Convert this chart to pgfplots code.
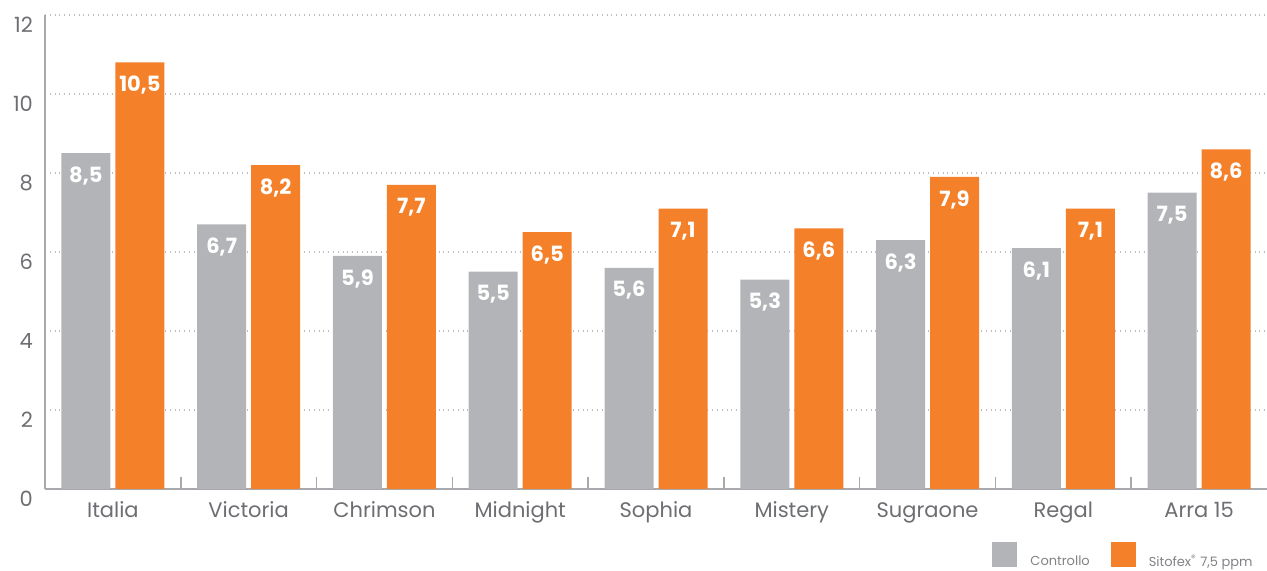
\documentclass[border=0pt]{standalone}
\usepackage{pgfplots}
\pgfplotsset{compat=1.18}
\usepackage{pgfplotstable}
\usepackage{fontspec}
\setmainfont{Poppins}
\definecolor{cgray}{HTML}{B3B4B7}
\definecolor{corange}{HTML}{F4812A}
\definecolor{ctext}{HTML}{6D6E71}
\definecolor{clegend}{HTML}{808285}
\definecolor{caxis}{HTML}{A7A9AC}
\definecolor{cgrid}{HTML}{BCBEC0}

\pgfplotstableread{
x y lab
0 8.5 8,5
1 6.7 6,7
2 5.9 5,9
3 5.5 5,5
4 5.6 5,6
5 5.3 5,3
6 6.3 6,3
7 6.1 6,1
8 7.5 7,5
}\controllo

\pgfplotstableread{
x y lab
0 10.8 10,5
1 8.2 8,2
2 7.7 7,7
3 6.5 6,5
4 7.1 7,1
5 6.6 6,6
6 7.9 7,9
7 7.1 7,1
8 8.6 8,6
}\sitofex

\begin{document}
\begin{tikzpicture}
\begin{axis}[
  scale only axis,
  width=611pt, height=237pt,
  xmin=-0.5, xmax=8.5,
  ymin=0, ymax=12,
  ybar=2.5pt, bar width=24.5pt,
  axis x line*=bottom, axis y line*=left,
  axis line style={caxis, line width=0.75pt, -},
  xtick={0,...,8},
  xticklabels={Italia,Victoria,Chrimson,Midnight,Sophia,Mistery,Sugraone,Regal,Arra 15},
  ytick={0,2,...,12},
  major tick length=0pt,
  extra x ticks={0.5,1.5,...,7.5},
  extra x tick labels={},
  extra x tick style={major tick length=6pt, tick align=inside, grid=none,
    tick style={caxis, line width=0.75pt}},
  ymajorgrids,
  grid style={dotted, cgrid, line width=1pt},
  tick label style={font=\fontsize{10.5}{12}\selectfont, text=ctext},
  xticklabel style={yshift=-2.5pt, text height=8pt, text depth=2.5pt},
  yticklabel style={xshift=-2.5pt, yshift=-5pt},
  /pgf/number format/assume math mode=true,
  point meta=explicit symbolic,
  nodes near coords={\pgfplotspointmeta},
  every node near coord/.append style={font=\bfseries\fontsize{10.5}{12}\selectfont,
    text=white, anchor=north, inner sep=0pt, yshift=-6.5pt},
  legend style={at={(rel axis cs:1,0)}, anchor=north east, yshift=-26.5pt, xshift=-7pt,
    draw=none, fill=none, inner sep=0pt, legend columns=2,
    font=\fontsize{6.5}{8}\selectfont, text=clegend,
    /tikz/every even column/.append style={column sep=10.5pt},
    nodes={inner sep=0pt}},
  legend cell align=left,
  legend image code/.code={\fill[#1] (0pt,-2.5pt) rectangle (12.5pt,10pt);
    \path (19pt,0pt);},
]
\addplot[fill=cgray, draw=none] table[x=x, y=y, meta=lab] {\controllo};
\addplot[fill=corange, draw=none] table[x=x, y=y, meta=lab] {\sitofex};
\legend{Controllo, {Sitofex\textsuperscript{®} 7{,}5 ppm}}
\end{axis}
\pgfresetboundingbox
\useasboundingbox (-22.5pt,-41pt) rectangle (611pt,244.5pt);
\end{tikzpicture}
\end{document}
